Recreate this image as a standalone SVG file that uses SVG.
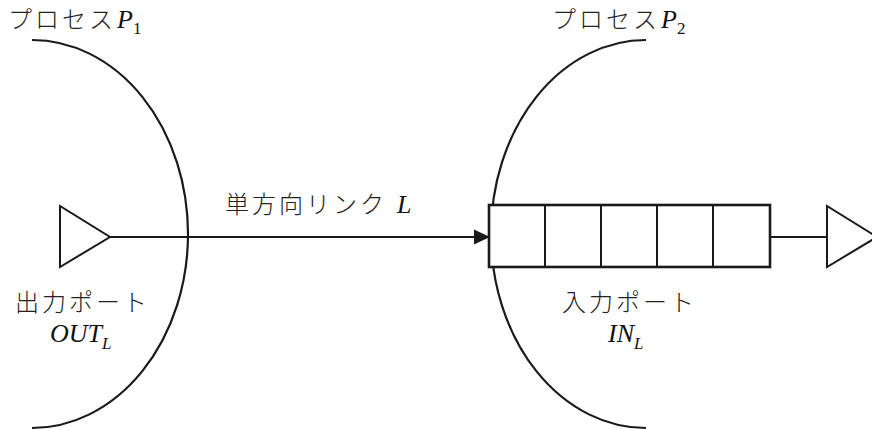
<svg xmlns="http://www.w3.org/2000/svg" width="872" height="430" viewBox="0 0 872 430">
  <style>
    .arc { fill: none; stroke: #1a1a1a; stroke-width: 2.2; }
    .tri { fill: #ffffff; stroke: #1a1a1a; stroke-width: 2; stroke-linejoin: miter; }
    .ln { fill: none; stroke: #1a1a1a; stroke-width: 2; }
    .box { fill: #ffffff; stroke: #1a1a1a; stroke-width: 2.6; }
    .cell { stroke: #1a1a1a; stroke-width: 2; }
    .jp { font-family: "Noto Sans CJK JP", "Noto Sans", sans-serif; font-size: 24px; font-weight: 300; fill: #222; letter-spacing: 3px; }
    .math { font-family: "Liberation Serif", "DejaVu Serif", serif; font-style: italic; font-size: 26px; fill: #111; letter-spacing: 0; font-weight: normal; }
    .sub { font-size: 17px; }
    .up { font-style: normal; }
  </style>

  <g id="process-p1">
    <path class="arc" d="M32,40 A156,194 0 0 1 32,428"/>
    <text x="8" y="28" class="jp">プロセス</text>
    <text x="117" y="28" class="math">P<tspan class="sub up" dy="6">1</tspan></text>
  </g>

  <g id="process-p2">
    <path class="arc" d="M646,40 A155,194 0 0 0 646,428"/>
    <text x="552" y="28" class="jp">プロセス</text>
    <text x="661" y="28" class="math">P<tspan class="sub up" dy="6">2</tspan></text>
  </g>

  <g id="out-port">
    <polygon class="tri" points="60,206 60,267 110,237"/>
    <text x="15" y="311" class="jp">出力ポート</text>
    <text x="50" y="342" class="math">OUT<tspan class="sub" dy="7">L</tspan></text>
  </g>

  <g id="in-port">
    <rect class="box" x="489" y="205" width="281" height="62"/>
    <line class="cell" x1="545" y1="205" x2="545" y2="267"/>
    <line class="cell" x1="601" y1="205" x2="601" y2="267"/>
    <line class="cell" x1="657" y1="205" x2="657" y2="267"/>
    <line class="cell" x1="713" y1="205" x2="713" y2="267"/>
    <text x="562" y="311" class="jp">入力ポート</text>
    <text x="608" y="342" class="math">IN<tspan class="sub" dy="7">L</tspan></text>
  </g>

  <g id="output">
    <polygon class="tri" points="827,206 827,267 877,237"/>
  </g>

  <g id="connectors">
    <line class="ln" x1="110" y1="237" x2="478" y2="237"/>
    <polygon points="474,229.5 490,237 474,244.5" fill="#1a1a1a"/>
    <line class="ln" x1="770" y1="237" x2="827" y2="237"/>
  </g>

  <g id="link-label">
    <text x="225" y="213" class="jp">単方向リンク</text>
    <text x="397" y="213" class="math">L</text>
  </g>
</svg>
